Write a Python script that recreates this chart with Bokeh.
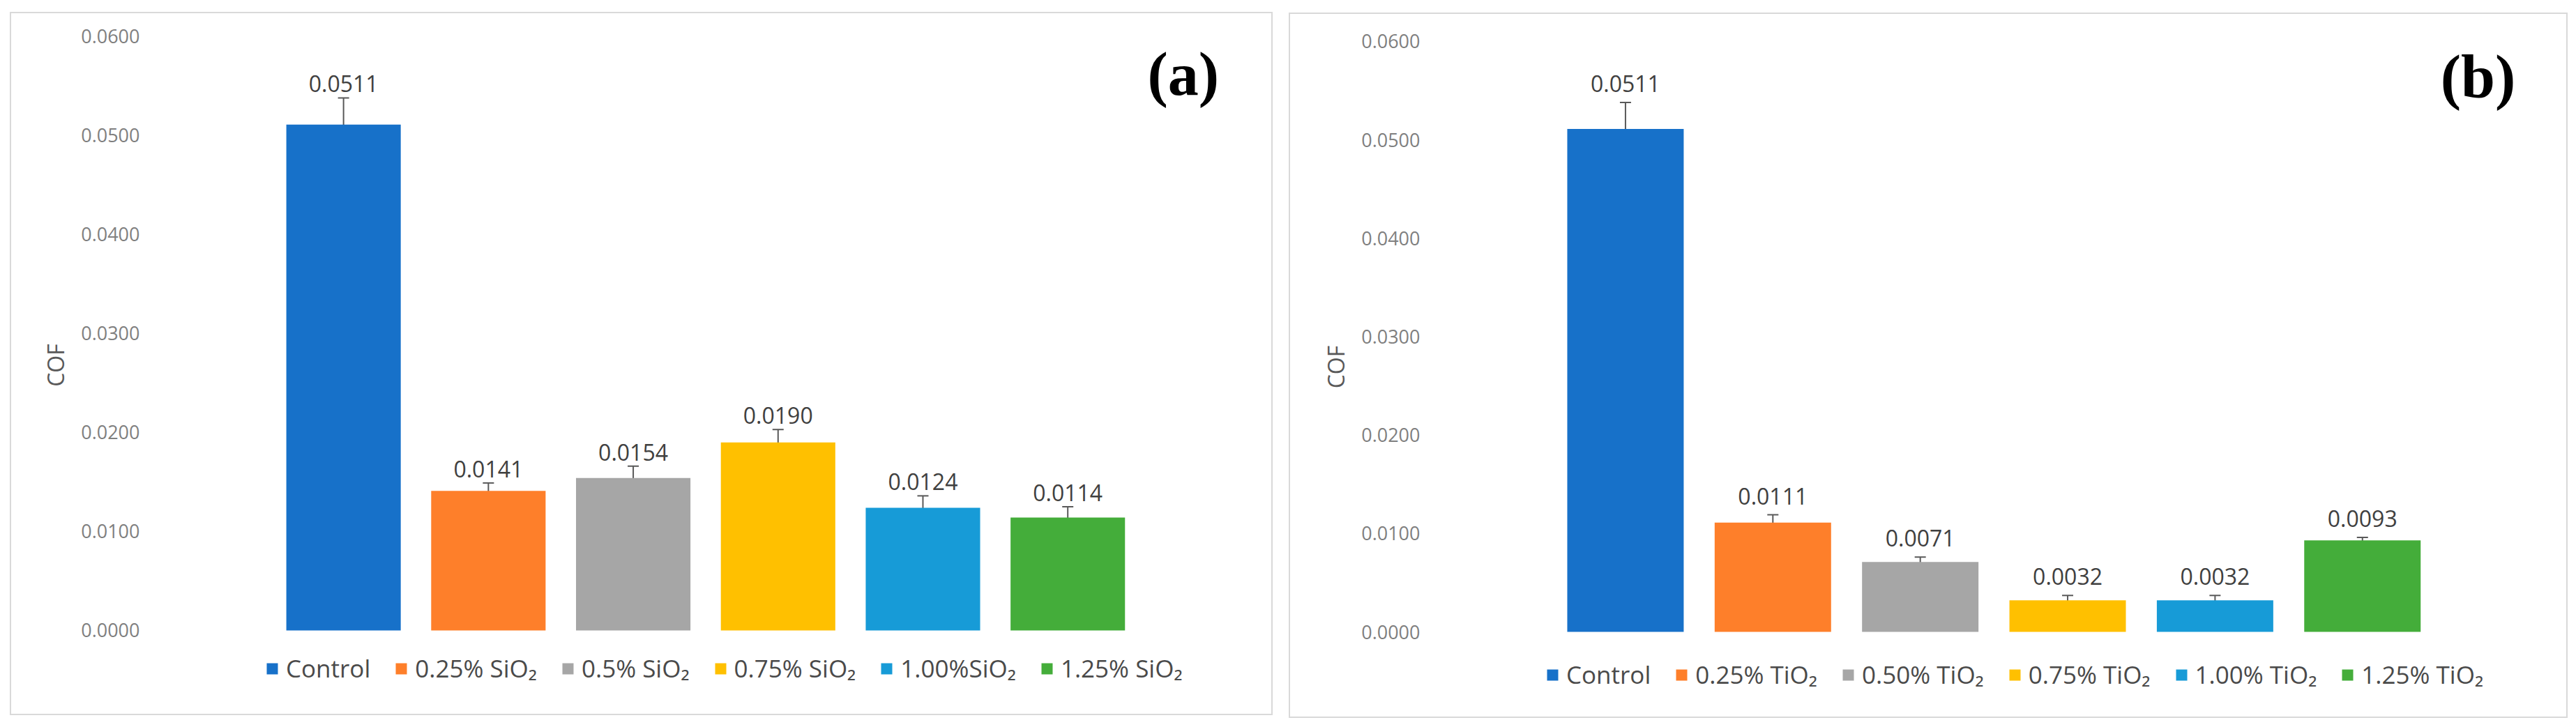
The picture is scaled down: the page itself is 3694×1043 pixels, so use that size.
from bokeh.plotting import figure
from bokeh.models import (ColumnDataSource, Range1d, Whisker, TeeHead,
                          Legend, LegendItem, Label, NumeralTickFormatter, FixedTicker, Spacer)
from bokeh.layouts import row, column
from bokeh.embed import file_html
from bokeh.resources import INLINE
from bokeh.core.properties import value

# ---------------- data ----------------
categories = ["Control", "0.25%", "0.50%", "0.75%", "1.00%", "1.25%"]
legend_a = ["Control", "0.25% SiO₂", "0.5% SiO₂", "0.75% SiO₂", "1.00%SiO₂", "1.25% SiO₂"]
legend_b = ["Control", "0.25% TiO₂", "0.50% TiO₂", "0.75% TiO₂", "1.00% TiO₂", "1.25% TiO₂"]
cof_a = [0.0511, 0.0141, 0.0154, 0.0190, 0.0124, 0.0114]
err_a = [0.0027, 0.0008, 0.0012, 0.0013, 0.0012, 0.0011]
cof_b = [0.0511, 0.0111, 0.0071, 0.0032, 0.0032, 0.0093]
err_b = [0.0027, 0.0008, 0.0005, 0.0005, 0.0005, 0.0003]
y_ticks = [0.0, 0.01, 0.02, 0.03, 0.04, 0.05, 0.06]
colors = ["#1771C9", "#FE7F2A", "#A6A6A6", "#FFC000", "#179BD7", "#44AD3A"]

FONT = "Open Sans"


def make_panel(vals, errs, labels, tag, width, height, x_rng, y_rng, mb_left,
               tag_pos, label_off, legend_loc):
    xs = list(range(len(categories)))
    src = ColumnDataSource(dict(
        x=xs, val=vals, color=colors,
        upper=[v + e for v, e in zip(vals, errs)],
        lower=[v - e for v, e in zip(vals, errs)],
        txt=["%.4f" % v for v in vals],
    ))
    p = figure(x_range=Range1d(*x_rng), y_range=Range1d(*y_rng),
               width=width, height=height, output_backend="svg",
               toolbar_location=None,
               min_border_left=mb_left, min_border_right=0,
               min_border_top=0, min_border_bottom=0)
    p.styles = {"border": "2px solid #d9d9d9"}
    p.outline_line_color = None
    p.grid.visible = False
    p.xaxis.visible = False

    r = p.vbar(x="x", top="val", width=0.79, fill_color="color", line_color=None, source=src)

    wh = Whisker(base="x", upper="upper", lower="lower", source=src,
                 line_color="#595959", line_width=2,
                 upper_head=TeeHead(size=16, line_color="#595959", line_width=2),
                 lower_head=TeeHead(size=16, line_color="#595959", line_width=2))
    p.add_layout(wh)

    p.text(x="x", y="upper", text="txt", source=src, text_align="center",
           text_baseline="alphabetic", y_offset=label_off,
           text_font=value(FONT), text_font_size="32px", text_color="#404040")

    ax = p.yaxis[0]
    ax.ticker = FixedTicker(ticks=y_ticks)
    ax.formatter = NumeralTickFormatter(format="0.0000")
    ax.axis_line_color = None
    ax.major_tick_line_color = None
    ax.minor_tick_line_color = None
    ax.major_tick_out = 0
    ax.major_tick_in = 0
    ax.major_label_standoff = 100
    ax.major_label_text_font = FONT
    ax.major_label_text_font_size = "27px"
    ax.major_label_text_color = "#7f7f7f"
    ax.axis_label = "COF"
    ax.axis_label_text_font = FONT
    ax.axis_label_text_font_size = "32px"
    ax.axis_label_text_font_style = "normal"
    ax.axis_label_text_color = "#595959"
    ax.axis_label_standoff = 12

    items = [LegendItem(label=labels[i], renderers=[r], index=i) for i in range(len(labels))]
    leg = Legend(items=items, orientation="horizontal", location=legend_loc,
                 glyph_width=20, glyph_height=20, label_standoff=10, spacing=34,
                 padding=0, margin=0, border_line_color=None,
                 background_fill_alpha=0,
                 label_text_font=FONT, label_text_font_size="35px",
                 label_text_color="#4a4a4a")
    p.add_layout(leg, "center")

    p.add_layout(Label(x=tag_pos[0], y=tag_pos[1], text=tag, text_font="Liberation Serif",
                       text_font_style="bold", text_font_size="88px",
                       text_color="black", text_baseline="middle", text_align="left"))
    return p


pa = make_panel(cof_a, err_a, legend_a, "(a)", 1811, 1009,
                (-0.925, 6.4265), (-0.008732, 0.06232), 284,
                (5.55, 0.0562), -20, (80, 46))
pb = make_panel(cof_b, err_b, legend_b, "(b)", 1834, 1012,
                (-0.920, 6.404), (-0.008925, 0.06276), 286,
                (5.53, 0.0564), -27, (80, 41))

layout = column(Spacer(height=17),
                row(Spacer(width=14), pa, Spacer(width=23), column(Spacer(height=1), pb)))

open("out.html", "w").write(file_html(layout, INLINE))
